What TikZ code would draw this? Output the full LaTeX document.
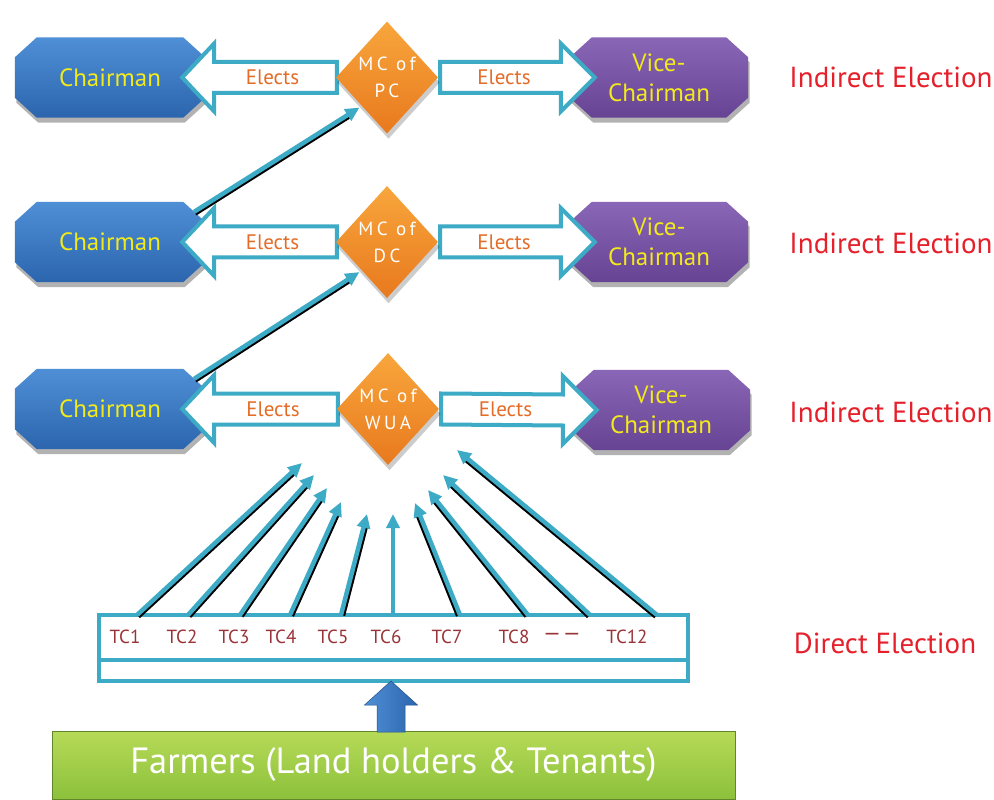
\documentclass[tikz,border=0pt]{standalone}
\usepackage{fontspec}
\setmainfont{PT Sans}
\usetikzlibrary{arrows.meta,shapes.geometric,calc}
\pgfdeclarelayer{bg}
\pgfdeclarelayer{fgs}
\pgfdeclarelayer{fg}
\pgfsetlayers{bg,main,fgs,fg}
\definecolor{tealc}{HTML}{3DAAC6}
\definecolor{elc}{HTML}{E46C27}
\definecolor{redc}{HTML}{E5202B}
\definecolor{tcc}{HTML}{9A3338}
\definecolor{yelc}{HTML}{F2EA1C}
\definecolor{bluet}{HTML}{4F8FD6}
\definecolor{blueb}{HTML}{2B65AD}
\definecolor{purt}{HTML}{8A66B6}
\definecolor{purb}{HTML}{674393}
\definecolor{orat}{HTML}{F8A63C}
\definecolor{orab}{HTML}{E8791E}
\definecolor{grnt}{HTML}{B6DA58}
\definecolor{grnb}{HTML}{8CC13B}
\newcommand\octpath[2]{\path[#2] ([xshift=22pt]#1.north west) -- ([xshift=-22pt]#1.north east) -- ([yshift=-20pt]#1.north east) -- ([yshift=20pt]#1.south east) -- ([xshift=-22pt]#1.south east) -- ([xshift=22pt]#1.south west) -- ([yshift=20pt]#1.south west) -- ([yshift=-20pt]#1.north west) -- cycle;}
\newcommand\leftel[2]{\draw[elarrow] ($(#2.west)+(1,-15.5)$) -- ($(#1.east)+(9,-15.5)$) -- ($(#1.east)+(9,-34)$) -- ($(#1.east)+(-23,0)$) -- ($(#1.east)+(9,34)$) -- ($(#1.east)+(9,15.5)$) -- ($(#2.west)+(1,15.5)$) -- cycle;}
\newcommand\rightel[2]{\draw[elarrow] ($(#1.east)+(2,-15.5)$) -- ($(#2.west)+(-9,-15.5)$) -- ($(#2.west)+(-9,-34)$) -- ($(#2.west)+(25,0)$) -- ($(#2.west)+(-9,34)$) -- ($(#2.west)+(-9,15.5)$) -- ($(#1.east)+(2,15.5)$) -- cycle;}
% teal arrow with black shadow line on one side
\newcommand\shadarrow[5][]{%
  \draw[shadowline] ($(#2)!3pt!#4:(#3)$) -- ($(#3)!3pt!#5:(#2)$);
  \draw[tcarrow,#1] (#2) -- (#3);}
\begin{document}
\begin{tikzpicture}[x=1pt,y=-1pt,
  boxtext/.style={rectangle, minimum width=#1, minimum height=80pt, inner sep=0pt, text=yelc, font=\fontsize{25}{30}\selectfont, align=center},
  shad/.style={fill=black, opacity=0.3, transform canvas={xshift=1.5pt,yshift=-5pt}},
  dia/.style={diamond, minimum width=102pt, minimum height=112pt, inner sep=0pt, top color=orat, bottom color=orab},
  diatext/.style={text=white, align=center, inner sep=0pt, font=\fontsize{19}{27}\selectfont\addfontfeature{LetterSpace=18}},
  elarrow/.style={draw=tealc, line width=4pt, fill=white, line join=miter},
  eltext/.style={text=elc, inner sep=0pt, font=\fontsize{21}{24}\selectfont},
  elect/.style={text=redc, inner sep=0pt, font=\fontsize{29}{34}\selectfont},
  tclab/.style={text=tcc, inner sep=0pt, font=\fontsize{19}{22}\selectfont},
  tcarrow/.style={draw=tealc, line width=4.5pt, -{Triangle[length=14pt,width=13pt]}},
  shadowline/.style={draw=black, line width=2.5pt, shorten >=13pt},
  farm/.style={rectangle, minimum width=683pt, minimum height=68pt, inner sep=0pt, top color=grnt, bottom color=grnb, draw=grnb!70!black, line width=1pt, text=white, font=\fontsize{36.5}{42}\selectfont}
]
\begin{pgfonlayer}{bg}
\useasboundingbox[fill=white] (0,0) rectangle (994,796);
\end{pgfonlayer}

% boxes (text nodes)
\node[boxtext=190pt] (c1) at (110,77.5) {Chairman};
\node[boxtext=190pt] (c2) at (110,242) {Chairman};
\node[boxtext=190pt] (c3) at (110,409) {Chairman};
\node[boxtext=178pt] (v1) at (659,77.5) {Vice-\\Chairman};
\node[boxtext=178pt] (v2) at (659,242) {Vice-\\Chairman};
\node[boxtext=178pt] (v3) at (661,410) {Vice-\\Chairman};

\begin{pgfonlayer}{bg}
\foreach \n in {c1,c2,c3,v1,v2,v3} {\octpath{\n}{shad}}
\foreach \n in {c1,c2,c3} {\octpath{\n}{top color=bluet, bottom color=blueb}}
\foreach \n in {v1,v2,v3} {\octpath{\n}{top color=purt, bottom color=purb}}
\end{pgfonlayer}

% diamonds
\begin{pgfonlayer}{fg}
\node[dia] (d1) at (387,77.5) {};
\node[diatext] (d1t) at (d1.center) {MC of\\PC};
\node[dia] (d2) at (387,242) {};
\node[diatext] (d2t) at (d2.center) {MC of\\DC};
\node[dia] (d3) at (388,409) {};
\node[diatext] (d3t) at (d3.center) {MC of\\WUA};
\end{pgfonlayer}
\begin{pgfonlayer}{fgs}
\foreach \n in {d1,d2,d3} {\path[shad, opacity=0.2] (\n.north) -- (\n.east) -- (\n.south) -- (\n.west) -- cycle;}
\end{pgfonlayer}

% elects arrows
\leftel{c1}{d1}
\leftel{c2}{d2}
\leftel{c3}{d3}
\rightel{d1}{v1}
\rightel{d2}{v2}
\rightel{d3}{v3}
\node[eltext] (e1l) at ($(c1.east)!0.5!(d1.west)+(2,0)$) {Elects};
\node[eltext] (e2l) at ($(c2.east)!0.5!(d2.west)+(2,0)$) {Elects};
\node[eltext] (e3l) at ($(c3.east)!0.5!(d3.west)+(2,0)$) {Elects};
\node[eltext] (e1r) at ($(d1.east)!0.5!(v1.west)$) {Elects};
\node[eltext] (e2r) at ($(d2.east)!0.5!(v2.west)$) {Elects};
\node[eltext] (e3r) at ($(d3.east)!0.5!(v3.west)$) {Elects};

% election labels
\node[elect] (ie1) at (891,77.5) {Indirect Election};
\node[elect] (ie2) at (891,243) {Indirect Election};
\node[elect] (ie3) at (891,412) {Indirect Election};
\node[elect] (de) at (885,643) {Direct Election};

% chairman -> higher MC
\coordinate (c2c) at ([xshift=-11pt,yshift=-10pt]c2.north east);
\coordinate (c3c) at ([xshift=-11pt,yshift=-10pt]c3.north east);
\coordinate (d1e) at ([xshift=-2pt,yshift=-2pt]d1.south west);
\coordinate (d2e) at ([xshift=-2pt,yshift=-2pt]d2.south west);
\shadarrow{c2c}{d1e}{-90}{90}
\shadarrow{c3c}{d2e}{-90}{90}

% TC box
\node[draw=tealc, line width=4pt, minimum width=589pt, minimum height=66pt, inner sep=0pt, outer sep=0pt] (tcbox) at (393.5,648) {};
\draw[tealc, line width=4pt] ([yshift=21pt]tcbox.south west) -- ([yshift=21pt]tcbox.south east);
\foreach \x/\t [count=\i] in {125/TC1, 182/TC2, 234/TC3, 281/TC4, 333/TC5, 386/TC6, 447/TC7, 514/TC8, 562/{\fontsize{22}{22}\selectfont\textemdash\kern1.5pt\textemdash}, 627/TC12}
  \node[tclab] (tc\i) at (\x,637) {\t};

% TC arrows
\foreach \sx/\tx/\ty [count=\i] in {38/302/463, 89/314/475, 141/327/488, 191/341/502, 242/367/514, 294/393/514, 361/415/503, 429/428/490, 491/443/475, 558/457/450} {
  \coordinate (s\i) at ($(tcbox.north west)+(\sx,0)$);
  \coordinate (t\i) at (\tx,\ty);
}
\foreach \i in {1,...,5} {\shadarrow{s\i}{t\i}{-90}{90}}
\draw[tcarrow] (s6) -- (t6);
\foreach \i in {7,...,10} {\shadarrow{s\i}{t\i}{90}{-90}}

% farmers
\node[farm] (farm) at (393.5,765) {Farmers (Land holders \& Tenants)};
\coordinate (uptip) at ($(tcbox.south)+(-2.5,0)$);
\path[left color=bluet, right color=blueb, draw=blueb!80!black, line width=0.5pt]
  (uptip) -- ($(uptip)+(26.5,24)$) -- ($(uptip)+(14,24)$) -- ($(uptip)+(14,51)$) -- ($(uptip)+(-14,51)$) -- ($(uptip)+(-14,24)$) -- ($(uptip)+(-26.5,24)$) -- cycle;
\end{tikzpicture}
\end{document}
